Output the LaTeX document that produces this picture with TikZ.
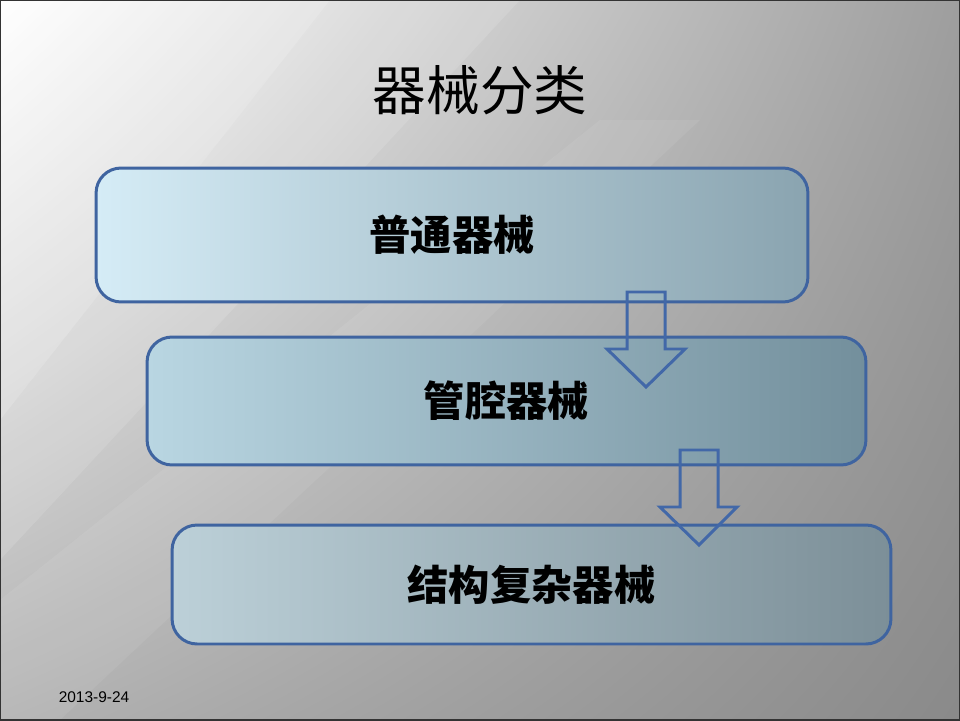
\documentclass[tikz,border=0pt]{standalone}
\usepackage{fontspec}
\usetikzlibrary{shadings}
\setmainfont{Liberation Sans}
\newfontfamily\cjk{Noto Sans CJK SC}
\begin{document}
\begin{tikzpicture}[x=0.02cm,y=-0.02cm,
  boxstyle/.style={draw=boxline, line width=1.7pt, rounded corners=0.5cm, inner sep=0pt,
    font=\cjk\bfseries\fontsize{23.5pt}{28pt}\selectfont, text=black},
  blockarrow/.style={draw=arrowline, line width=1.7pt, line join=miter}]
\definecolor{boxline}{HTML}{3F64A0}
\definecolor{arrowline}{HTML}{4268A8}
\definecolor{bonel}{HTML}{D5ECF6}
\definecolor{boner}{HTML}{8AA4B0}
\definecolor{btwol}{HTML}{B9D6E2}
\definecolor{btwor}{HTML}{738F9C}
\definecolor{bthrl}{HTML}{BCD0D8}
\definecolor{bthrr}{HTML}{7C8F98}
\useasboundingbox (0,0) rectangle (960,720);
% background
\shade[upper left=white, upper right=black!38, lower left=black!30, lower right=black!46] (0,0) rectangle (960,720);
\fill[white, opacity=0.25] (0,0) -- (330,0) -- (0,420) -- cycle;
\fill[white, opacity=0.12] (0,420) -- (330,0) -- (520,0) -- (0,560) -- cycle;
\fill[white, opacity=0.07] (0,600) -- (600,120) -- (700,120) -- (60,720) -- (0,720) -- cycle;
\draw[black!80, line width=1.2pt] (0,0) rectangle (960,720);
% title
\node (title) at (480,90) {\cjk\fontsize{30.5pt}{36pt}\selectfont 器械分类};
% boxes
\node[boxstyle, left color=bonel, right color=boner,
  minimum width=14.24cm, minimum height=2.68cm] (b1) at (452,235) {普通器械};
\node[boxstyle, left color=btwol, right color=btwor,
  minimum width=14.38cm, minimum height=2.56cm] (b2) at (506.5,401) {管腔器械};
\node[boxstyle, left color=bthrl, right color=bthrr,
  minimum width=14.38cm, minimum height=2.38cm] (b3) at (531.5,584.5) {结构复杂器械};
% block arrows
\draw[blockarrow] (627,292) -- (665,292) -- (665,349) -- (685,349) -- (646,387) -- (607,349) -- (627,349) -- cycle;
\draw[blockarrow] (680,450) -- (718,450) -- (718,507) -- (737,507) -- (699,545) -- (660,507) -- (680,507) -- cycle;
% date
\node[font=\fontsize{8.8pt}{10pt}\selectfont] (date) at (94,697) {2013-9-24};
\end{tikzpicture}
\end{document}
